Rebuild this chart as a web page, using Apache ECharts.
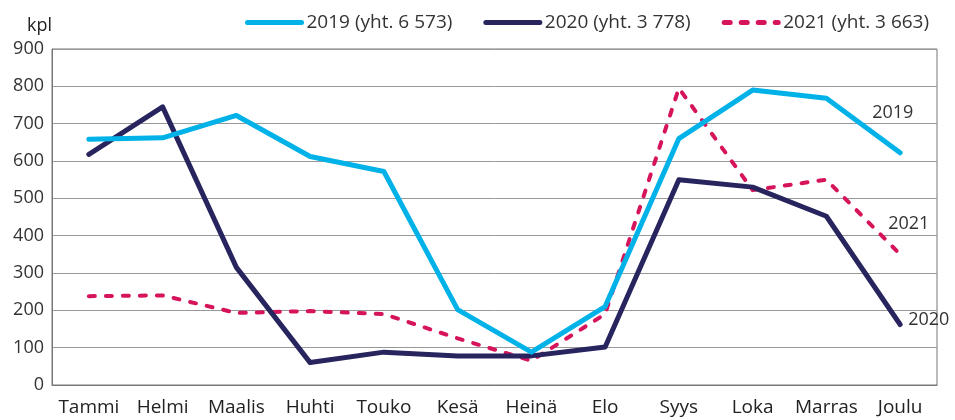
<!DOCTYPE html>
<html>
<head>
<meta charset="utf-8">
<script src="https://cdn.jsdelivr.net/npm/echarts@6/dist/echarts.min.js"></script>
<style>
  html, body { margin: 0; padding: 0; background: #fff; }
  #main { width: 955px; height: 420px; }
</style>
</head>
<body>
<div id="main"></div>
<script>
  // kuukaudet
  const months = ["Tammi", "Helmi", "Maalis", "Huhti", "Touko", "Kesä", "Heinä", "Elo", "Syys", "Loka", "Marras", "Joulu"];
  // sarjat (kpl)
  const v2019 = [658, 662, 722, 612, 572, 202, 88, 210, 660, 790, 768, 622];
  const v2020 = [618, 745, 315, 60, 88, 78, 78, 102, 550, 530, 452, 162];
  const v2021 = [238, 240, 193, 198, 190, 125, 65, 190, 795, 522, 550, 350];
  const names = ["2019 (yht. 6 573)", "2020 (yht. 3 778)", "2021 (yht. 3 663)"];
  const endNames = ["2019", "2020", "2021"];

  const font = "'Open Sans', 'Noto Sans', sans-serif";
  const chart = echarts.init(document.getElementById("main"));

  function endLabel(text, offset) {
    return {
      show: true,
      formatter: text,
      offset: offset,
      color: "#333",
      fontSize: 18,
      fontFamily: font
    };
  }

  const option = {
    animation: false,
    textStyle: { fontFamily: font },
    legend: {
      top: 8,
      left: 240,
      itemGap: 31,
      itemWidth: 54,
      itemHeight: 6,
      textStyle: { fontSize: 19, color: "#333" },
      itemStyle: { opacity: 0 },
      lineStyle: { width: 5, cap: "round" },
      data: names
    },
    grid: { left: 52, right: 18, top: 49, bottom: 35, containLabel: false, show: true, borderColor: "#777", borderWidth: 1 },
    xAxis: {
      type: "category",
      data: months,
      boundaryGap: true,
      axisLine: { lineStyle: { color: "#777", width: 1 } },
      axisTick: { alignWithLabel: true, length: 6, lineStyle: { color: "#555" } },
      axisLabel: { color: "#222", fontSize: 19, margin: 13, interval: 0 }
    },
    yAxis: {
      type: "value",
      min: 0,
      max: 900,
      interval: 100,
      name: "kpl",
      nameLocation: "end",
      nameGap: 14,
      nameTextStyle: { color: "#222", fontSize: 18, align: "right" },
      axisLine: { show: true, lineStyle: { color: "#777" } },
      axisTick: { show: false },
      splitLine: { lineStyle: { color: "#999", width: 1 } },
      axisLabel: { color: "#333", fontSize: 18, margin: 8 }
    },
    series: [
      {
        name: names[0],
        type: "line",
        data: v2019,
        symbol: "none",
        lineStyle: { color: "#00b2e8", width: 5, cap: "round", join: "round" },
        itemStyle: { color: "#00b2e8" },
        endLabel: endLabel(endNames[0], [-36, -40]),
        z: 3
      },
      {
        name: names[1],
        type: "line",
        data: v2020,
        symbol: "none",
        lineStyle: { color: "#27245e", width: 5, cap: "round", join: "round" },
        itemStyle: { color: "#27245e" },
        endLabel: endLabel(endNames[1], [0, -5]),
        z: 2
      },
      {
        name: names[2],
        type: "line",
        data: v2021,
        symbol: "none",
        lineStyle: { color: "#d6145b", width: 4, type: [6, 11], cap: "round", join: "round" },
        itemStyle: { color: "#d6145b" },
        endLabel: endLabel(endNames[2], [-20, -30]),
        z: 1
      }
    ]
  };

  chart.setOption(option);
</script>
</body>
</html>
